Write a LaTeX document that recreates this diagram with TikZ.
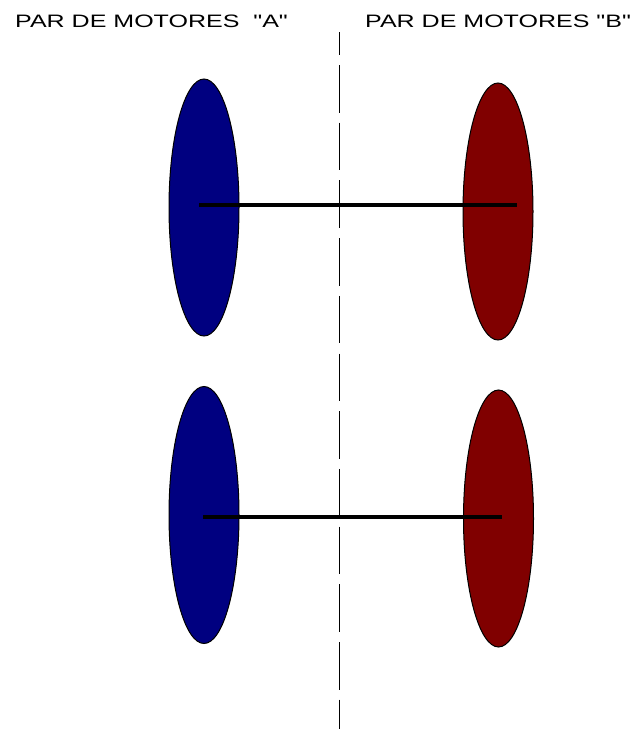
\documentclass[tikz,border=0pt]{standalone}
\usepackage{fontspec}
\newfontfamily\titlefont{Liberation Sans}
\usetikzlibrary{shapes.geometric}
\definecolor{motorA}{RGB}{0,0,128}
\definecolor{motorB}{RGB}{128,0,0}
\tikzset{
  motor/.style={ellipse, draw=black, line width=1pt, minimum width=70pt, minimum height=257pt, inner sep=0pt},
  motora/.style={motor, fill=motorA},
  motorb/.style={motor, fill=motorB},
  axle/.style={line width=3.4pt, black},
  divider/.style={line width=1.8pt, black, dash pattern=on 47.5pt off 10.2pt, dash phase=24.7pt},
  title/.style={anchor=base west, inner sep=0pt, font=\titlefont\fontsize{18}{20}\selectfont}
}
\begin{document}
\begin{tikzpicture}[x=1pt,y=-1pt]
\useasboundingbox (0,0) rectangle (639,729);
% divider
\coordinate (dtop) at (339.5,32);
\coordinate (dbot) at (339.5,729);
\draw[divider] (dtop) -- (dbot);
% titles
\node[title] (ta) at (15,27.3) {\scalebox{1.39}[1]{PAR DE MOTORES\ \ "A"}};
\node[title] (tb) at (365,27.3) {\scalebox{1.39}[1]{PAR DE MOTORES "B"}};
% motors
\node[motora] (a1) at (204,207.5) {};
\node[motorb] (b1) at (498,211.5) {};
\node[motora] (a2) at (204,515) {};
\node[motorb] (b2) at (498.5,518.5) {};
% axles
\coordinate (a1s) at (199,205);
\coordinate (b1e) at (517,205);
\coordinate (a2s) at (203,517);
\coordinate (b2e) at (502,517);
\draw[axle] (a1s) -- (b1e);
\draw[axle] (a2s) -- (b2e);
\end{tikzpicture}
\end{document}
